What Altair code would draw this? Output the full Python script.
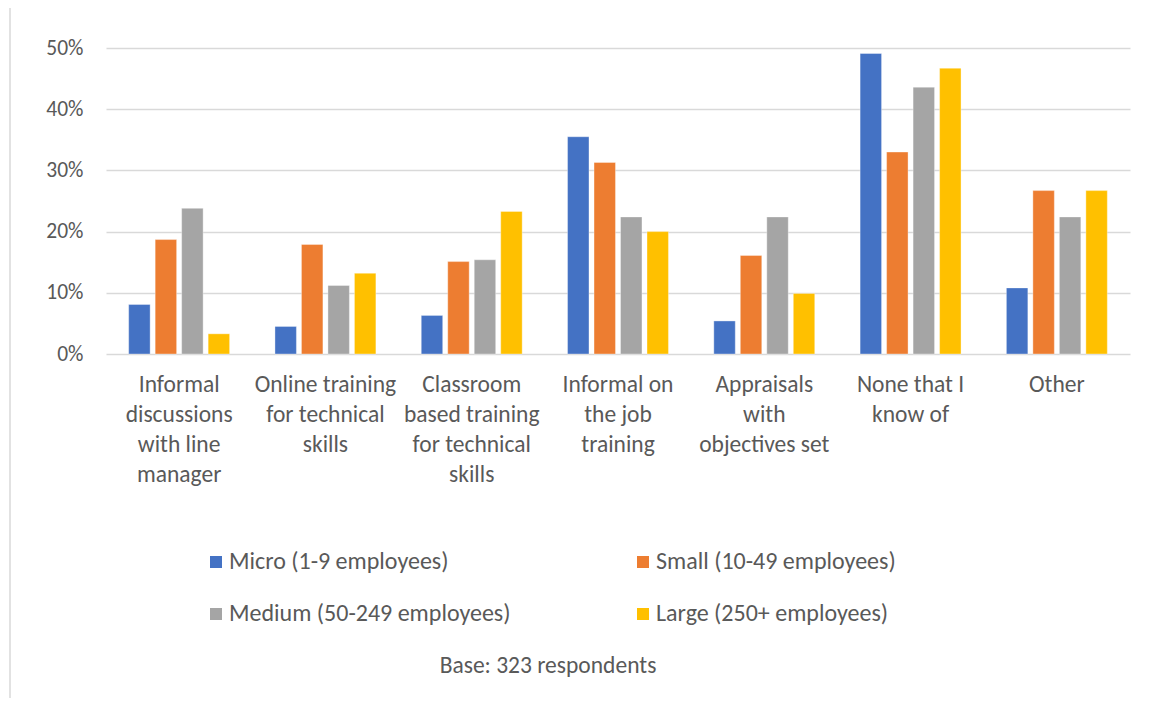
import altair as alt
import pandas as pd

categories = [
    "Informal\ndiscussions\nwith line\nmanager",
    "Online training\nfor technical\nskills",
    "Classroom\nbased training\nfor technical\nskills",
    "Informal on\nthe job\ntraining",
    "Appraisals\nwith\nobjectives set",
    "None that I\nknow of",
    "Other",
]
series = [
    "Micro (1-9 employees)",
    "Small (10-49 employees)",
    "Medium (50-249 employees)",
    "Large (250+ employees)",
]
legend_order = [series[0], series[2], series[1], series[3]]
micro = [8.1, 4.5, 6.3, 35.5, 5.4, 49.1, 10.8]
small = [18.7, 17.9, 15.1, 31.3, 16.1, 33.0, 26.7]
medium = [23.8, 11.2, 15.4, 22.4, 22.4, 43.6, 22.4]
large = [3.3, 13.2, 23.3, 20.0, 9.9, 46.7, 26.7]
colors = ["#4472C4", "#ED7D31", "#A5A5A5", "#FFC000"]
y_ticks = [0, 0.1, 0.2, 0.3, 0.4, 0.5]
note = "Base: 323 respondents"

rows = []
for s, vals in zip(series, [micro, small, medium, large]):
    for c, v in zip(categories, vals):
        rows.append({"category": c, "series": s, "value": v / 100})
df = pd.DataFrame(rows)

FONT = "Carlito, Calibri, Lato, sans-serif"
TXT = "#595959"

bars = alt.Chart(df).mark_bar(stroke="white", strokeWidth=0.6, strokeOpacity=0.6).encode(
    x=alt.X(
        "category:N",
        sort=categories,
        scale=alt.Scale(paddingInner=0.31, paddingOuter=0.155),
        axis=alt.Axis(
            title=None,
            labelAngle=0,
            domain=False,
            ticks=False,
            labelPadding=18,
            labelBaseline="top",
            labelLineHeight=30,
            labelLimit=300,
            labelFontSize=23.5,
            labelExpr="split(datum.label, '\\n')",
        ),
    ),
    xOffset=alt.XOffset(
        "series:N", sort=series, scale=alt.Scale(paddingInner=0.19, paddingOuter=0)
    ),
    y=alt.Y(
        "value:Q",
        scale=alt.Scale(domain=[0, 0.5], nice=False),
        axis=alt.Axis(
            title=None,
            values=y_ticks,
            format=".0%",
            domain=False,
            ticks=False,
            labelPadding=23,
            labelFontSize=21.5,
            grid=True,
            gridColor="#D9D9D9",
            gridWidth=1.3,
        ),
    ),
    color=alt.Color(
        "series:N",
        sort=series,
        scale=alt.Scale(domain=series, range=colors),
        legend=alt.Legend(
            title=None,
            values=legend_order,
            orient="none",
            legendX=98,
            legendY=502,
            columns=2,
            columnPadding=120,
            rowPadding=28,
            symbolType="square",
            symbolSize=144,
            symbolStrokeWidth=0,
            labelOffset=1,
            labelLimit=0,
        ),
    ),
)

border = alt.Chart(pd.DataFrame({"k": [0]})).mark_rule(color="#D9D9D9", strokeWidth=1.5).encode(
    x=alt.value(-96), y=alt.value(-40), y2=alt.value(660)
)

caption = alt.Chart(pd.DataFrame({"note": [note]})).mark_text(
    font=FONT, fontSize=23.5, color=TXT, align="center", baseline="middle"
).encode(text="note:N", x=alt.value(442), y=alt.value(618))

chart = (
    alt.layer(border, bars, caption)
    .properties(
        width=1024,
        height=306,
        autosize=alt.AutoSizeParams(type="none"),
        padding={"left": 98, "top": 40, "right": 17, "bottom": 344},
    )
    .configure_view(stroke=None)
    .configure_axis(labelFont=FONT, labelColor=TXT)
    .configure_legend(labelFont=FONT, labelFontSize=24, labelColor=TXT)
)

chart.save("out.html", embed_options={"renderer": "svg", "actions": False})
